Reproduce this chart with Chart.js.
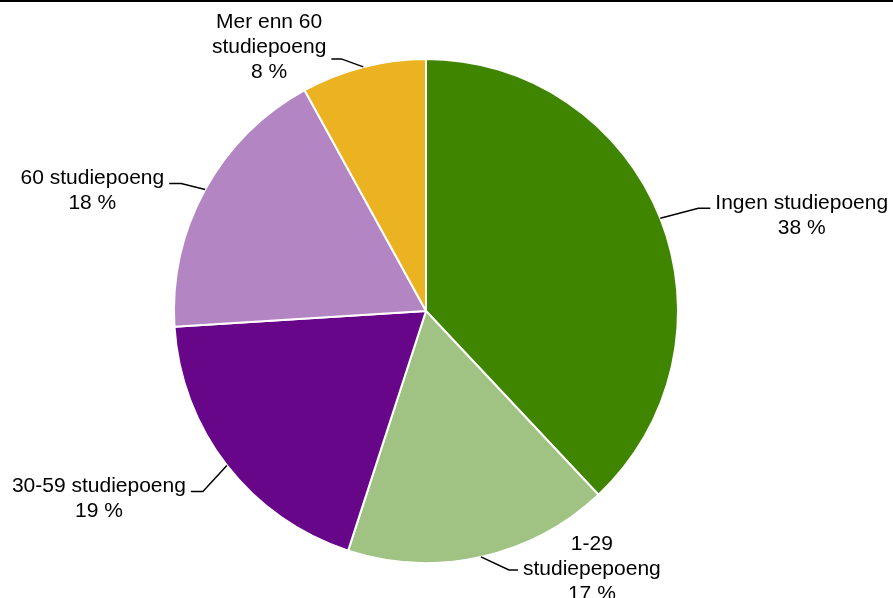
<!DOCTYPE html>
<html>
<head>
<meta charset="utf-8">
<script src="https://cdn.jsdelivr.net/npm/chart.js@4/dist/chart.umd.min.js"></script>
<style>
  html, body { margin: 0; padding: 0; background: #fff; }
  #wrap { position: relative; width: 893px; height: 598px; border-top: 2px solid #000; box-sizing: border-box; }
  canvas { display: block; }
</style>
</head>
<body>
<div id="wrap"><canvas id="pie" width="893" height="596"></canvas></div>
<script>
const labels = [
  ['Ingen studiepoeng'],
  ['1-29', 'studiepepoeng'],
  ['30-59 studiepoeng'],
  ['60 studiepoeng'],
  ['Mer enn 60', 'studiepoeng']
];
const shares = [38, 17, 19, 18, 8];
const colors = ['#3f8500', '#a0c384', '#680689', '#b385c2', '#ebb222'];

// leader line: elbow offset from the slice edge and the horizontal tail;
// anchor = which text line the tail points at, lift = text raised above the tail
const leaders = [
  { elbow: [38, -10], tail: 12, side: 'right', anchor: 0, lift: 5 },
  { elbow: [28, 13], tail: 9, side: 'right', anchor: 1, lift: 1 },
  { elbow: [-24, 26], tail: 12, side: 'left', anchor: 0, lift: 5 },
  { elbow: [-24, -6], tail: 12, side: 'left', anchor: 0, lift: 5 },
  { elbow: [-22, -8], tail: 10, side: 'left', anchor: 1, lift: 12 }
];

const labelPlugin = {
  id: 'sliceLabels',
  afterDraw(chart) {
    const ctx = chart.ctx;
    const meta = chart.getDatasetMeta(0);
    ctx.save();
    ctx.font = '21px "Liberation Sans", Arial, sans-serif';
    ctx.fillStyle = '#000';
    ctx.strokeStyle = '#000';
    ctx.lineWidth = 1.5;
    ctx.textBaseline = 'middle';
    ctx.textAlign = 'center';
    meta.data.forEach((arc, i) => {
      const p = arc.getProps(['x', 'y', 'startAngle', 'endAngle', 'outerRadius'], true);
      const mid = (p.startAngle + p.endAngle) / 2;
      const sx = p.x + Math.cos(mid) * p.outerRadius;
      const sy = p.y + Math.sin(mid) * p.outerRadius;
      const L = leaders[i];
      const ex = sx + L.elbow[0], ey = sy + L.elbow[1];
      const dir = L.side === 'right' ? 1 : -1;
      const tx = ex + dir * L.tail;
      ctx.beginPath();
      ctx.moveTo(sx, sy);
      ctx.lineTo(ex, ey);
      ctx.lineTo(tx, ey);
      ctx.stroke();

      const lines = labels[i].concat([shares[i] + ' %']);
      const w = ctx.measureText(lines[L.anchor]).width;
      const cx = tx + dir * (5 + w / 2);
      lines.forEach((s, k) => {
        ctx.fillText(s, cx, ey + (k - L.anchor) * 25 - L.lift);
      });
    });
    ctx.restore();
  }
};

new Chart(document.getElementById('pie'), {
  type: 'pie',
  data: {
    labels: labels.map(l => l.join(' ')),
    datasets: [{
      data: shares,
      backgroundColor: colors,
      borderColor: '#fff',
      borderWidth: 2
    }]
  },
  options: {
    responsive: false,
    animation: false,
    layout: { padding: { top: 56, bottom: 34, left: 173, right: 214 } },
    plugins: {
      legend: { display: false },
      tooltip: { enabled: false }
    }
  },
  plugins: [labelPlugin]
});
</script>
</body>
</html>
